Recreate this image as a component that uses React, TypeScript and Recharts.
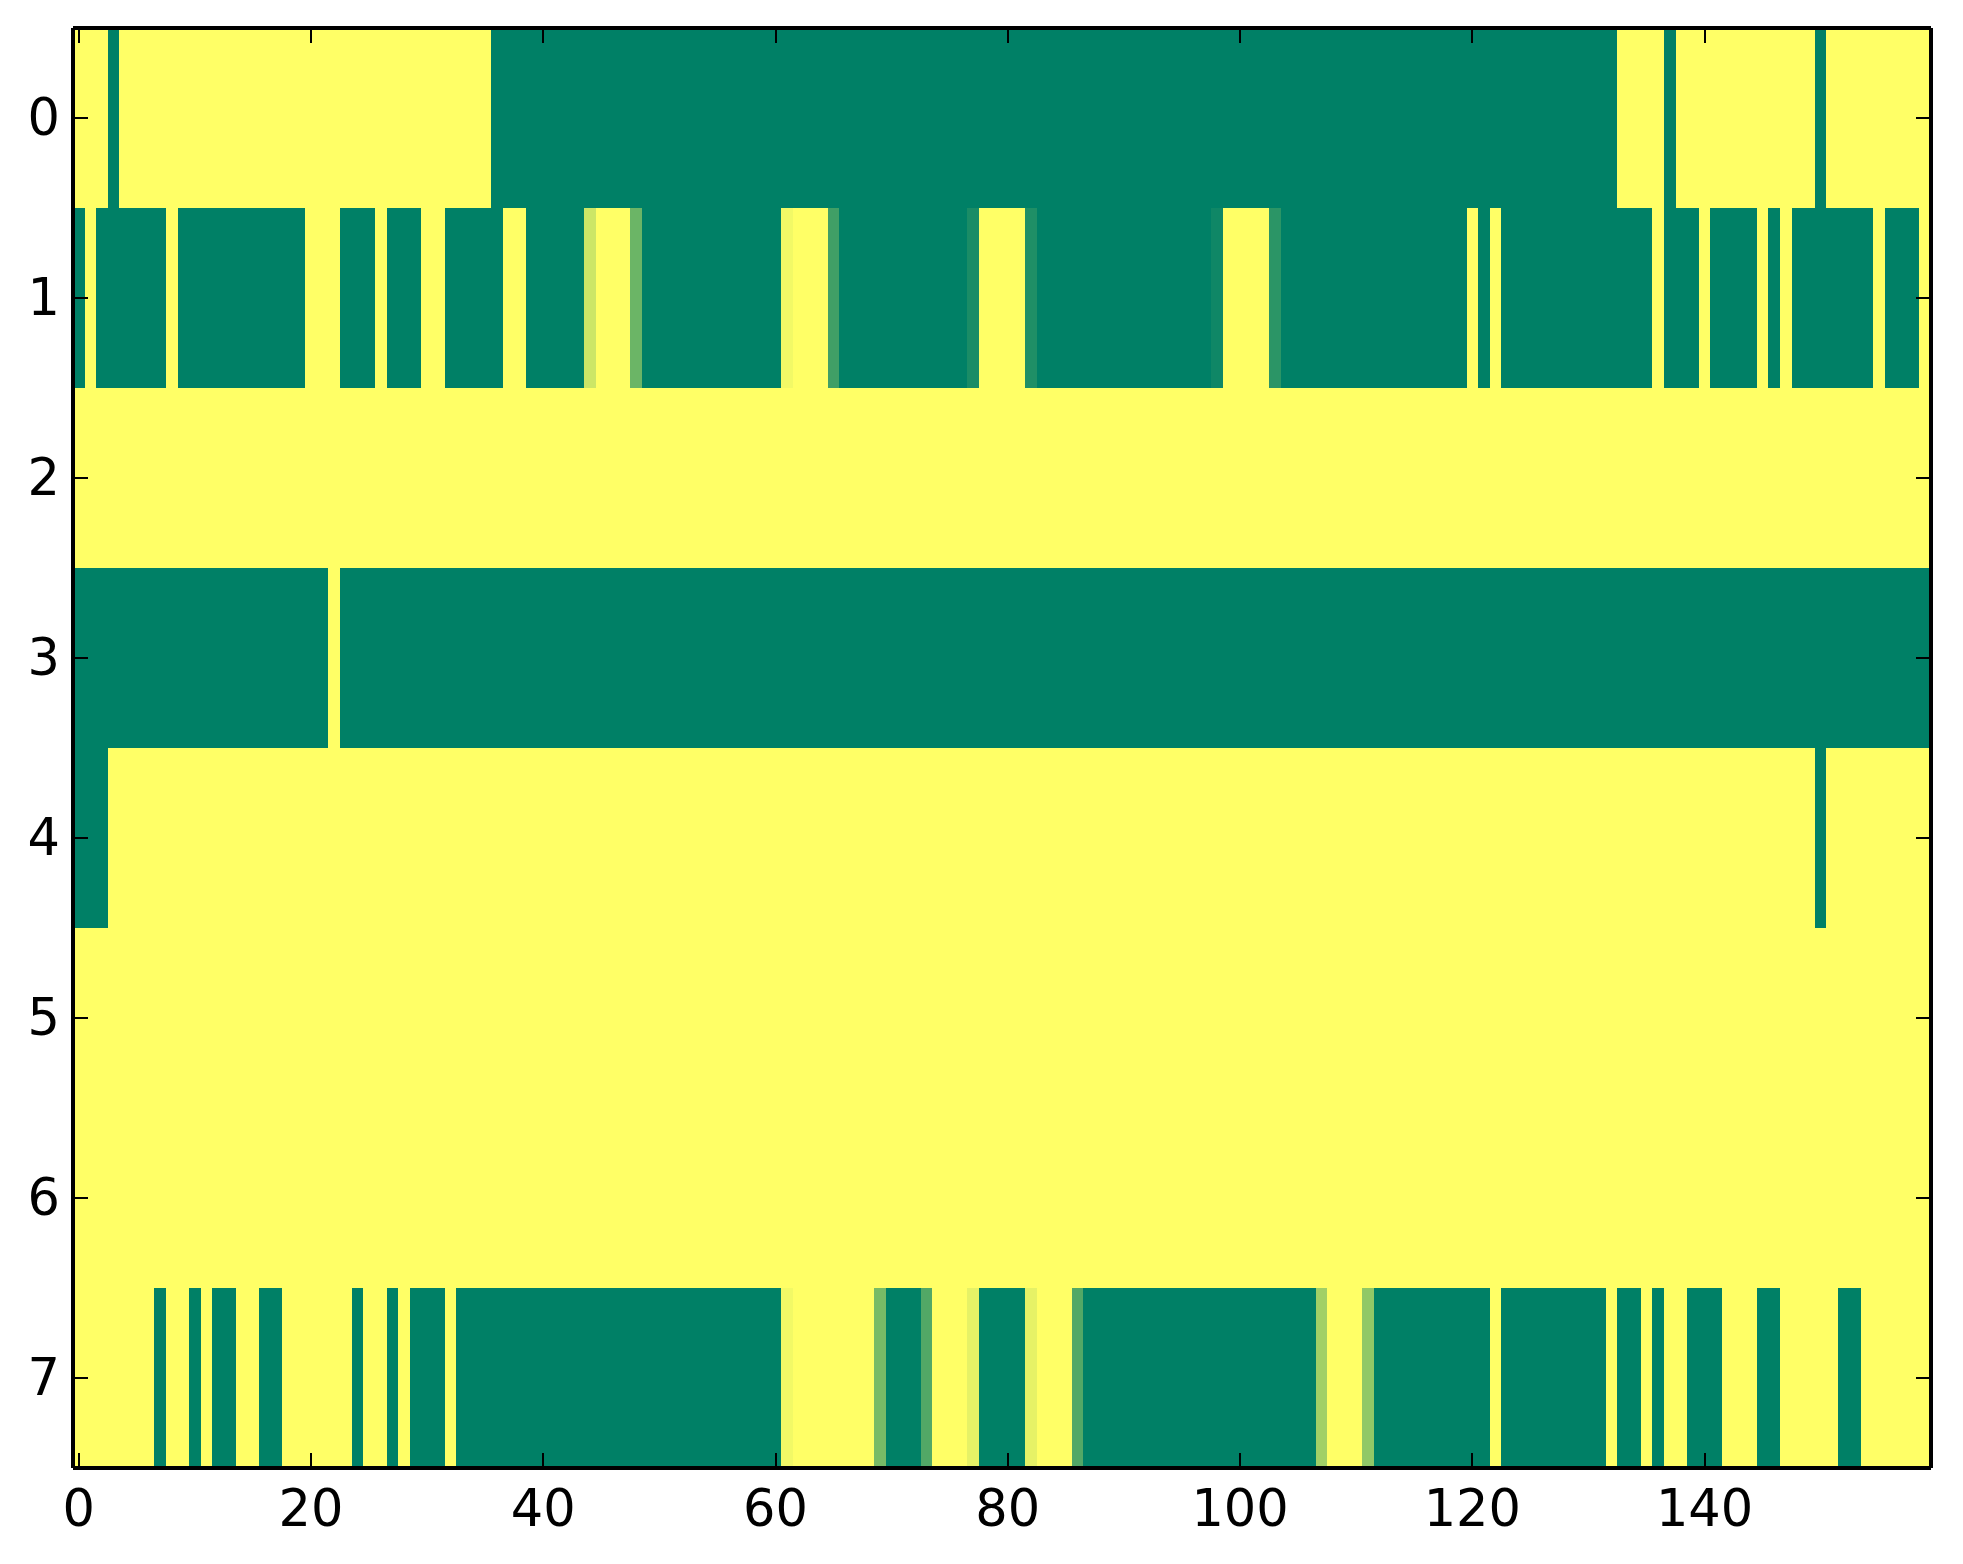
import React from "react";
import { ScatterChart, Scatter, XAxis, YAxis, ReferenceArea } from "recharts";

// each row is a list of runs: [value, number of columns]
type Run = [number, number];

const row0: Run[] = [[1, 3], [0, 1], [1, 32], [0, 97], [1, 4], [0, 1], [1, 12], [0, 1], [1, 9]];
const row1: Run[] = [
  [0, 1], [1, 1], [0, 6], [1, 1], [0, 11], [1, 3], [0, 3], [1, 1], [0, 3], [1, 2],
  [0, 5], [1, 2], [0, 5], [0.8, 1], [1, 3], [0.42, 1], [0, 12], [0.95, 1], [1, 3], [0.25, 1],
  [0, 11], [0.1, 1], [1, 4], [0.12, 1], [0, 15], [0.06, 1], [1, 4], [0.17, 1], [0, 16], [1, 1],
  [0, 1], [1, 1], [0, 13], [1, 1], [0, 3], [1, 1], [0, 4], [1, 1], [0, 1], [1, 1],
  [0, 7], [1, 1], [0, 3], [1, 1],
];
const row2: Run[] = [[1, 160]];
const row3: Run[] = [[0, 22], [1, 1], [0, 137]];
const row4: Run[] = [[0, 3], [1, 147], [0, 1], [1, 9]];
const row5: Run[] = [[1, 160]];
const row6: Run[] = [[1, 160]];
const row7: Run[] = [
  [1, 7], [0, 1], [1, 2], [0, 1], [1, 1], [0, 2], [1, 2], [0, 2], [1, 6], [0, 1],
  [1, 2], [0, 1], [1, 1], [0, 3], [1, 1], [0, 28], [0.95, 1], [1, 7], [0.47, 1], [0, 3],
  [0.32, 1], [1, 3], [0.9, 1], [0, 4], [0.9, 1], [1, 3], [0.32, 1], [0, 20], [0.63, 1], [1, 3],
  [0.57, 1], [0, 10], [1, 1], [0, 9], [1, 1], [0, 2], [1, 1], [0, 1], [1, 2], [0, 3],
  [1, 3], [0, 2], [1, 5], [0, 2], [1, 6],
];

const rows = [row0, row1, row2, row3, row4, row5, row6, row7];
const xTicks = [0, 20, 40, 60, 80, 100, 120, 140];
const yTicks = [0, 1, 2, 3, 4, 5, 6, 7];
const nCols = 160;

// matplotlib "summer" colormap
const summer = (v: number) =>
  `rgb(${Math.round(255 * v)}, ${Math.round(255 * (0.5 + 0.5 * v))}, 102)`;

const cells = rows.flatMap((runs, r) => {
  let start = 0;
  return runs.map(([value, n]) => {
    const cell = { row: r, x1: start - 0.5, x2: start + n - 0.5, value };
    start += n;
    return cell;
  });
});

const font = { fontFamily: "DejaVu Sans", fontSize: 51, fill: "#000" };

const BottomTick = ({ x, y, payload }: any) => (
  <g>
    <line x1={x} x2={x} y1={y} y2={y - 15} stroke="#000" strokeWidth={2} />
    <text x={x} y={y + 58} textAnchor="middle" {...font}>
      {payload.value}
    </text>
  </g>
);

const TopTick = ({ x, y }: any) => (
  <line x1={x} x2={x} y1={y} y2={y + 15} stroke="#000" strokeWidth={2} />
);

const LeftTick = ({ x, y, payload }: any) => (
  <g>
    <line x1={x} x2={x + 15} y1={y} y2={y} stroke="#000" strokeWidth={2} />
    <text x={x - 13} y={y + 17} textAnchor="end" {...font}>
      {payload.value}
    </text>
  </g>
);

const RightTick = ({ x, y }: any) => (
  <line x1={x} x2={x - 15} y1={y} y2={y} stroke="#000" strokeWidth={2} />
);

const axisLine = { stroke: "#000", strokeWidth: 4 };

export default function App() {
  return (
    <div
      style={{
        position: "absolute",
        left: 0,
        top: 0,
        width: 1963,
        height: 1564,
        background: "#fff",
        shapeRendering: "crispEdges",
      }}
    >
      <ScatterChart
        width={1963}
        height={1564}
        margin={{ top: 27, right: 31, bottom: 0, left: 0 }}
      >
        {cells.map((c, i) => (
          <ReferenceArea
            key={i}
            xAxisId="bottom"
            yAxisId="left"
            x1={c.x1}
            x2={c.x2}
            y1={c.row - 0.5}
            y2={c.row + 0.5}
            fill={summer(c.value)}
            fillOpacity={1}
            stroke="none"
            ifOverflow="visible"
          />
        ))}
        <Scatter data={[]} dataKey="row" xAxisId="bottom" yAxisId="left" isAnimationActive={false} />
        <Scatter data={[]} dataKey="row" xAxisId="top" yAxisId="right" isAnimationActive={false} />
        <XAxis
          xAxisId="bottom"
          type="number"
          dataKey="x"
          domain={[-0.5, nCols - 0.5]}
          allowDataOverflow
          ticks={xTicks}
          interval={0}
          height={96}
          tickSize={0}
          tickMargin={0}
          tickLine={false}
          axisLine={axisLine}
          tick={<BottomTick />}
        />
        <XAxis
          xAxisId="top"
          orientation="top"
          type="number"
          dataKey="x"
          domain={[-0.5, nCols - 0.5]}
          allowDataOverflow
          ticks={xTicks}
          interval={0}
          height={1}
          tickSize={0}
          tickMargin={0}
          tickLine={false}
          axisLine={axisLine}
          tick={<TopTick />}
        />
        <YAxis
          yAxisId="left"
          type="number"
          dataKey="row"
          domain={[-0.5, 7.5]}
          reversed
          allowDataOverflow
          ticks={yTicks}
          interval={0}
          width={73}
          tickSize={0}
          tickMargin={0}
          tickLine={false}
          axisLine={axisLine}
          tick={<LeftTick />}
        />
        <YAxis
          yAxisId="right"
          orientation="right"
          type="number"
          dataKey="row"
          domain={[-0.5, 7.5]}
          reversed
          allowDataOverflow
          ticks={yTicks}
          interval={0}
          width={1}
          tickSize={0}
          tickMargin={0}
          tickLine={false}
          axisLine={axisLine}
          tick={<RightTick />}
        />
      </ScatterChart>
    </div>
  );
}
